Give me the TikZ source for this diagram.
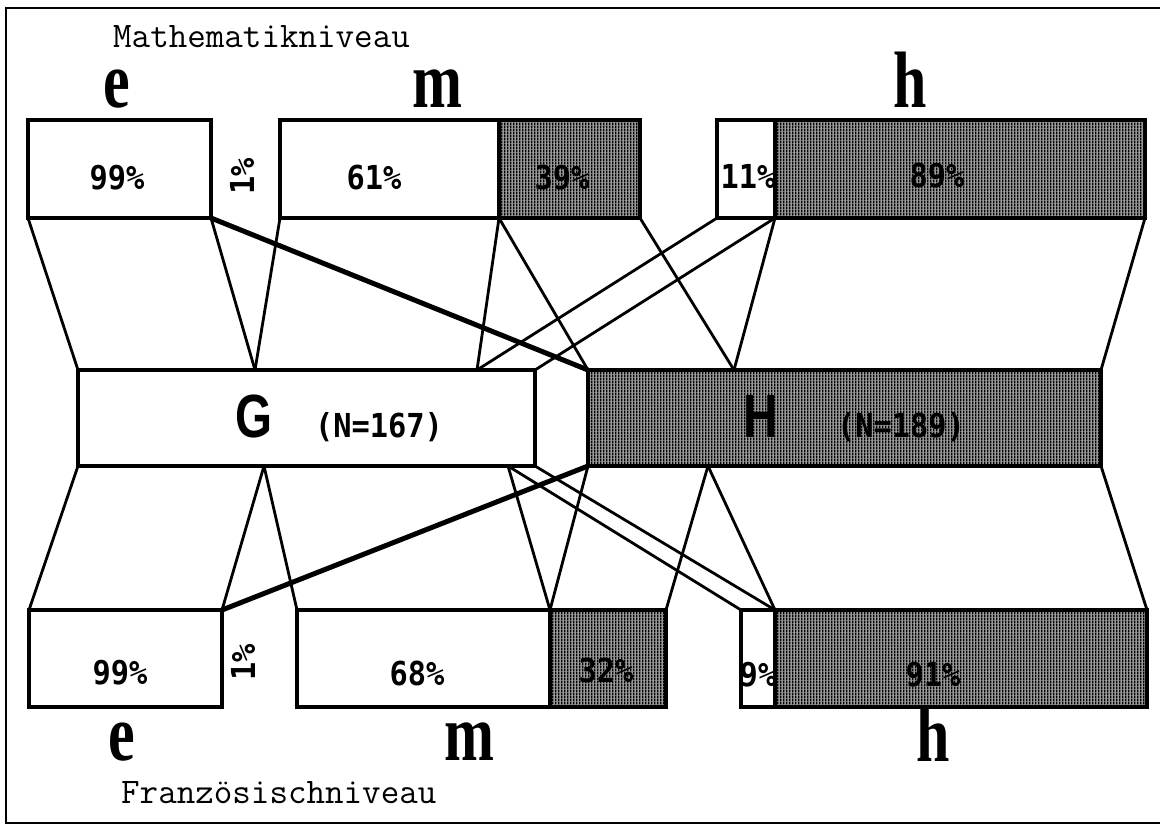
\documentclass[tikz,border=0pt]{standalone}
\usepackage{fontspec}
\usetikzlibrary{patterns.meta}
\newfontfamily\pctfam[FakeStretch=0.92]{DejaVu Sans Mono}
\newfontfamily\lvlfam[FakeStretch=0.75]{Liberation Serif}
\newfontfamily\gfam[FakeStretch=0.78]{Liberation Sans}
\tikzdeclarepattern{
  name=vstripes,
  type=uncolored,
  bounding box={(0pt,0pt) and (3pt,3pt)},
  tile size={(3pt,3pt)},
  code={\fill (0pt,0pt) rectangle (1.8pt,3pt);}
}
\tikzset{
  box/.style={draw, line width=3.5pt, rectangle, inner sep=0pt, outer sep=0pt, anchor=north west},
  hatchbox/.style={box, preaction={fill=black!40}, pattern=vstripes},
  link/.style={line width=2.8pt},
  thicklink/.style={line width=5pt},
  pct/.style={font={\pctfam\bfseries\fontsize{33}{36}\selectfont}, inner sep=0pt},
  lvl/.style={font={\lvlfam\bfseries\fontsize{80}{84}\selectfont}, inner sep=0pt, anchor=base},
  grp/.style={font={\gfam\bfseries\fontsize{61}{64}\selectfont}, inner sep=0pt, anchor=base},
  capt/.style={font={\ttfamily\fontsize{36}{39}\selectfont}, inner sep=0pt, anchor=base west},
}
\begin{document}
\begin{tikzpicture}[x=1pt,y=-1pt]
\useasboundingbox (0,0) rectangle (1160,827);
% frame
\draw[line width=2.4pt] (1160,8) -- (6,8) -- (6,823) -- (1160,823);

% captions
\node[capt] (mcap) at (113,47) {Mathematikniveau};
\node[capt] (fcap) at (121,803) {Französischniveau};

% level letters
\node[lvl] (te-l) at (117,107) {e};
\node[lvl] (tm-l) at (437,107) {m};
\node[lvl] (th-l) at (910,107) {h};
\node[lvl] (be-l) at (122,760) {e};
\node[lvl] (bm-l) at (469,760) {m};
\node[lvl] (bh-l) at (933,761) {h};

% top boxes
\node[box, minimum width=183, minimum height=98] (TE) at (28,120) {};
\node[box, minimum width=219, minimum height=98] (TMw) at (280,120) {};
\node[hatchbox, minimum width=141, minimum height=98] (TMh) at (499,120) {};
\node[box, minimum width=58, minimum height=98] (THw) at (717,120) {};
\node[hatchbox, minimum width=370, minimum height=98] (THh) at (775,120) {};

% middle boxes
\node[box, minimum width=457, minimum height=96] (G) at (78,370) {};
\node[hatchbox, minimum width=513, minimum height=96] (H) at (588,370) {};

% bottom boxes
\node[box, minimum width=193, minimum height=97] (BE) at (29,610) {};
\node[box, minimum width=253, minimum height=97] (BMw) at (297,610) {};
\node[hatchbox, minimum width=116, minimum height=97] (BMh) at (550,610) {};
\node[box, minimum width=34, minimum height=97] (BHw) at (741,610) {};
\node[hatchbox, minimum width=372, minimum height=97] (BHh) at (775,610) {};

% split points on G and H
\coordinate (gt1) at (255,370);
\coordinate (gt2) at (477,370);
\coordinate (ht1) at (734,370);
\coordinate (gb1) at (264,466);
\coordinate (gb2) at (508,466);
\coordinate (hb1) at (708,466);

% top connectors
\draw[link] (TE.south west) -- (G.north west);
\draw[link] (TE.south east) -- (gt1);
\draw[thicklink] (TE.south east) -- (H.north west);
\draw[link] (TMw.south west) -- (gt1);
\draw[link] (TMw.south east) -- (gt2);
\draw[link] (TMh.south west) -- (H.north west);
\draw[link] (TMh.south east) -- (ht1);
\draw[link] (THw.south west) -- (gt2);
\draw[link] (THw.south east) -- (G.north east);
\draw[link] (THh.south west) -- (ht1);
\draw[link] (THh.south east) -- (H.north east);

% bottom connectors
\draw[link] (G.south west) -- (BE.north west);
\draw[link] (gb1) -- (BE.north east);
\draw[link] (gb1) -- (BMw.north west);
\draw[thicklink] (H.south west) -- (BE.north east);
\draw[link] (gb2) -- (BMw.north east);
\draw[link] (gb2) -- (BHw.north west);
\draw[link] (G.south east) -- (BHw.north east);
\draw[link] (H.south west) -- (BMh.north west);
\draw[link] (hb1) -- (BMh.north east);
\draw[link] (hb1) -- (BHh.north west);
\draw[link] (H.south east) -- (BHh.north east);

% percentages top
\node[pct] (p-te) at (117,178) {99\%};
\node[pct, rotate=90] (p-te1) at (242,176) {1\%};
\node[pct] (p-tmw) at (374,178) {61\%};
\node[pct] (p-tmh) at (562,178) {39\%};
\node[pct] (p-thw) at (748,176) {11\%};
\node[pct] (p-thh) at (937,176) {89\%};

% group labels
\node[grp] (g-l) at (254,437) {G};
\node[pct, anchor=base] (g-n) at (379,437) {(N=167)};
\node[grp] (h-l) at (761,437) {H};
\node[pct, anchor=base] (h-n) at (901,437) {(N=189)};

% percentages bottom
\node[pct] (p-be) at (120,673) {99\%};
\node[pct, rotate=90] (p-be1) at (243,662) {1\%};
\node[pct] (p-bmw) at (417,673) {68\%};
\node[pct] (p-bmh) at (606,670) {32\%};
\node[pct] (p-bhw) at (758,675) {9\%};
\node[pct] (p-bhh) at (933,675) {91\%};
\end{tikzpicture}
\end{document}
